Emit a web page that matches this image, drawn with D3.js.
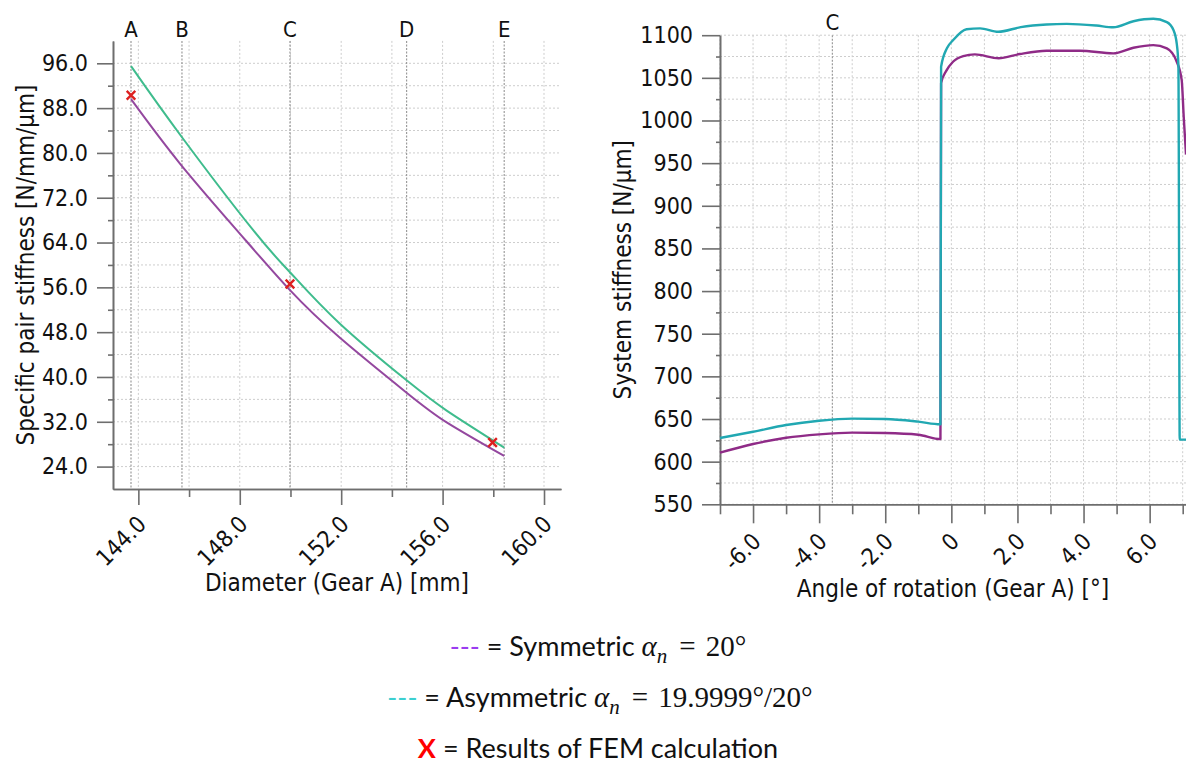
<!DOCTYPE html>
<html>
<head>
<meta charset="utf-8">
<script src="https://cdn.jsdelivr.net/npm/d3@7"></script>
<style>
  body { margin: 0; background: #fff; }
  svg text { font-family: "DejaVu Sans Condensed", "Liberation Sans", sans-serif; fill: #111; }
  .grid { stroke: #cdcdcd; stroke-width: 1; stroke-dasharray: 2,2; }
  .mark { stroke: #9c9c9c; stroke-width: 1.2; stroke-dasharray: 2,1.5; }
  .axis path, .axis line { stroke: #6e6e6e; stroke-width: 1.6; }
  .axis text { font-size: 23px; }
  .title { font-size: 24px; }
  .legend text { font-family: Lato, "Open Sans", sans-serif; font-size: 27px; }
  .legend .math { font-family: "Liberation Serif", serif; font-size: 29px; }
</style>
</head>
<body>
<div class="root"></div>
<script>
// left chart: specific pair stiffness over the diameter
var asymDiameter = [143.71, 145.72, 148.53, 149.98, 151.95, 154.58, 156.16, 158.43];
var asymStiffness = [95.5, 82.8, 66.2, 58.7, 49.5, 39.4, 34.0, 27.4];
var symDiameter = [143.71, 145.64, 148.0, 149.98, 151.95, 154.58, 156.16, 158.43];
var symStiffness = [89.6, 78.1, 65.6, 55.5, 47.0, 37.2, 31.9, 25.9];
var femDiameter = [143.71, 149.98, 157.97];
var femStiffness = [90.3, 56.6, 28.3];
var markLabels = ['A', 'B', 'C', 'D', 'E'];
var markDiameter = [143.71, 145.72, 149.98, 154.58, 158.43];
var diaTicks = [144, 148, 152, 156, 160];
var diaMinor = [146, 150, 154, 158];
var pairTicks = [24, 32, 40, 48, 56, 64, 72, 80, 88, 96];
var pairMinor = [28, 36, 44, 52, 60, 68, 76, 84, 92];

// right chart: system stiffness over the angle of rotation
var asymAngle = [-7.0, -6.0, -5.0, -4.0, -3.0, -2.0, -1.0, -0.33, -0.31, -0.13, 0.05, 0.46, 0.87, 1.42, 2.1, 2.88, 3.49, 4.39, 4.9, 5.51, 6.11, 6.52, 6.72, 6.82, 6.87, 6.91, 7.1];
var asymSystem = [627.7, 635.1, 643.0, 648.0, 650.4, 650.0, 646.9, 643.8, 1063, 1085, 1094, 1107, 1108, 1104, 1109.5, 1112.6, 1113.3, 1111.3, 1109.3, 1116.4, 1119.2, 1115.3, 1106, 1090, 1065, 625.8, 625.8];
var symAngle = [-7.0, -6.0, -5.0, -4.0, -3.0, -2.0, -1.0, -0.33, -0.31, -0.15, 0.05, 0.36, 0.71, 1.43, 2.07, 2.88, 3.89, 4.9, 5.51, 6.11, 6.52, 6.82, 6.97, 7.03, 7.1];
var symSystem = [610.5, 620.7, 628.0, 632.0, 634.0, 633.6, 631.6, 626.5, 1044, 1058.4, 1068.9, 1075.5, 1077.5, 1072.9, 1077.9, 1081.8, 1081.8, 1078.7, 1085.3, 1088.4, 1084.5, 1068.9, 1047.3, 1005, 960];
var angleMarkLabel = ['C'];
var angleMark = [-3.6];
var angleTicks = [-6, -4, -2, 0, 2, 4, 6];
var angleMinor = [-7, -5, -3, -1, 1, 3, 5, 7];
var sysTicks = [550, 600, 650, 700, 750, 800, 850, 900, 950, 1000, 1050, 1100];
var sysMinor = [575, 625, 675, 725, 775, 825, 875, 925, 975, 1025, 1075];

var symColorL = '#94489f', asymColorL = '#3fbc8d';
var symColorR = '#8f2b87', asymColorR = '#21a8b2';

var svg = d3.select('.root')
            .append('svg')
            .attr('width', 1186)
            .attr('height', 767);

function zip(xs, ys) {
  return xs.map(function(x, i) { return [x, ys[i]]; });
}

function drawChart(opt) {
  var x = opt.x, y = opt.y;
  var g = svg.append('g');
  var x0 = x.range()[0], x1 = x.range()[1];
  var y0 = y.range()[0], y1 = y.range()[1];

  // dotted grid
  g.append('g').selectAll('line')
    .data(opt.xGrid)
    .enter().append('line')
      .attr('class', 'grid')
      .attr('x1', function(d) { return x(d); })
      .attr('x2', function(d) { return x(d); })
      .attr('y1', y1).attr('y2', y0);
  g.append('g').selectAll('line')
    .data(opt.yGrid)
    .enter().append('line')
      .attr('class', 'grid')
      .attr('x1', x0).attr('x2', x1)
      .attr('y1', function(d) { return y(d); })
      .attr('y2', function(d) { return y(d); });

  // position markers (A..E)
  g.append('g').selectAll('line')
    .data(opt.marks)
    .enter().append('line')
      .attr('class', 'mark')
      .attr('x1', function(d) { return x(d); })
      .attr('x2', function(d) { return x(d); })
      .attr('y1', y1).attr('y2', y0);
  g.append('g').selectAll('text')
    .data(opt.marks)
    .enter().append('text')
      .attr('class', 'title')
      .style('font-size', '22px')
      .attr('text-anchor', 'middle')
      .attr('x', function(d) { return x(d); })
      .attr('y', opt.markY)
      .text(function(d, i) { return opt.markLabels[i]; });

  // axes
  g.append('g')
    .attr('class', 'axis')
    .attr('transform', 'translate(0,' + y0 + ')')
    .call(d3.axisBottom(x).tickValues(opt.xMinor).tickSize(opt.xMinorLen).tickSizeOuter(0).tickFormat(''));
  var xa = g.append('g')
    .attr('class', 'axis')
    .attr('transform', 'translate(0,' + y0 + ')')
    .call(d3.axisBottom(x).tickValues(opt.xTicks).tickSize(opt.xTickLen).tickSizeOuter(0).tickFormat(opt.xFormat));
  xa.selectAll('text')
    .attr('x', null).attr('y', null)
    .attr('dy', '0.35em')
    .attr('text-anchor', 'end')
    .attr('transform', 'translate(3,' + opt.xLabelDy + ') rotate(-45)');

  g.append('g')
    .attr('class', 'axis')
    .attr('transform', 'translate(' + x0 + ',0)')
    .call(d3.axisLeft(y).tickValues(opt.yMinor).tickSize(opt.yMinorLen).tickSizeOuter(0).tickFormat(''));
  g.append('g')
    .attr('class', 'axis')
    .attr('transform', 'translate(' + x0 + ',0)')
    .call(d3.axisLeft(y).tickValues(opt.yTicks).tickSize(opt.yTickLen).tickSizeOuter(0).tickPadding(9).tickFormat(opt.yFormat));

  g.selectAll('.axis .domain').attr('stroke', '#6e6e6e');

  // titles
  g.append('text')
    .attr('class', 'title')
    .attr('text-anchor', 'middle')
    .attr('x', (x0 + x1) / 2)
    .attr('y', opt.xTitleY)
    .text(opt.xTitle);
  g.append('text')
    .attr('class', 'title')
    .attr('text-anchor', 'middle')
    .attr('transform', 'translate(' + opt.yTitleX + ',' + ((y0 + y1) / 2) + ') rotate(-90)')
    .text(opt.yTitle);

  // curves
  var line = d3.line()
    .x(function(d) { return x(d[0]); })
    .y(function(d) { return y(d[1]); })
    .curve(opt.curve);
  opt.series.forEach(function(s) {
    g.append('path')
      .attr('fill', 'none')
      .attr('stroke', s.color)
      .attr('stroke-width', s.width)
      .attr('stroke-linejoin', 'round')
      .attr('d', line(s.points));
  });
  return g;
}

var xL = d3.scaleLinear().domain([143, 160.67]).range([113, 561]);
var yL = d3.scaleLinear().domain([20, 100]).range([489, 40.9]);

var leftChart = drawChart({
  x: xL, y: yL, curve: d3.curveNatural,
  xGrid: diaTicks.concat(diaMinor),
  yGrid: pairTicks.concat(pairMinor),
  marks: markDiameter, markLabels: markLabels, markY: 37,
  xTicks: diaTicks, xMinor: diaMinor, xTickLen: 16, xMinorLen: 8, xLabelDy: 31,
  xFormat: d3.format('.1f'),
  yTicks: pairTicks, yMinor: pairMinor, yTickLen: 16, yMinorLen: 5,
  yFormat: d3.format('.1f'),
  xTitle: 'Diameter (Gear A) [mm]', xTitleY: 591,
  yTitle: 'Specific pair stiffness [N/mm/\u00b5m]', yTitleX: 34,
  series: [
    { points: zip(symDiameter, symStiffness), color: symColorL, width: 2 },
    { points: zip(asymDiameter, asymStiffness), color: asymColorL, width: 2 }
  ]
});

// FEM results
leftChart.append('g').selectAll('path')
  .data(zip(femDiameter, femStiffness))
  .enter().append('path')
    .attr('transform', function(d) { return 'translate(' + xL(d[0]) + ',' + yL(d[1]) + ')'; })
    .attr('d', d3.symbol().type(d3.symbolX).size(50))
    .attr('fill', 'none')
    .attr('stroke', '#dd2020')
    .attr('stroke-width', 2.4);

var xR = d3.scaleLinear().domain([-7, 7.1]).range([720, 1186]);
var yR = d3.scaleLinear().domain([550, 1100]).range([504.3, 35.2]);

drawChart({
  x: xR, y: yR, curve: d3.curveMonotoneX,
  xGrid: angleTicks.concat(angleMinor),
  yGrid: sysTicks.concat(sysMinor),
  marks: angleMark, markLabels: angleMarkLabel, markY: 30,
  xTicks: angleTicks, xMinor: angleMinor, xTickLen: 19, xMinorLen: 10, xLabelDy: 33,
  xFormat: function(d) { return d === 0 ? '0' : d.toFixed(1); },
  yTicks: sysTicks, yMinor: sysMinor, yTickLen: 18, yMinorLen: 4,
  yFormat: d3.format('d'),
  xTitle: 'Angle of rotation (Gear A) [\u00b0]', xTitleY: 597,
  yTitle: 'System stiffness [N/\u00b5m]', yTitleX: 631,
  series: [
    { points: zip(symAngle, symSystem), color: symColorR, width: 2.4 },
    { points: zip(asymAngle, asymSystem), color: asymColorR, width: 2.4 }
  ]
});

// legend
var legend = svg.append('g').attr('class', 'legend');

var l1 = legend.append('text').attr('x', 598).attr('y', 656).attr('text-anchor', 'middle');
l1.append('tspan').style('fill', '#9a3cf0').text('---');
l1.append('tspan').text(' = Symmetric ');
l1.append('tspan').attr('class', 'math').style('font-style', 'italic').text('\u03b1');
l1.append('tspan').attr('class', 'math').style('font-style', 'italic').style('font-size', '21px').attr('dy', 7).text('n');
l1.append('tspan').attr('class', 'math').attr('dy', -7).attr('dx', 12).text('=');
l1.append('tspan').attr('class', 'math').attr('dx', 10).text('20\u00b0');

var l2 = legend.append('text').attr('x', 600).attr('y', 707).attr('text-anchor', 'middle');
l2.append('tspan').style('fill', '#3ccfd0').text('---');
l2.append('tspan').text(' = Asymmetric ');
l2.append('tspan').attr('class', 'math').style('font-style', 'italic').text('\u03b1');
l2.append('tspan').attr('class', 'math').style('font-style', 'italic').style('font-size', '21px').attr('dy', 7).text('n');
l2.append('tspan').attr('class', 'math').attr('dy', -7).attr('dx', 12).text('=');
l2.append('tspan').attr('class', 'math').attr('dx', 10).text('19.9999\u00b0/20\u00b0');

var l3 = legend.append('text').attr('x', 598).attr('y', 758).attr('text-anchor', 'middle');
l3.append('tspan').style('fill', '#ff0000').style('font-weight', 'bold').text('X');
l3.append('tspan').text(' = Results of FEM calculation');
</script>
</body>
</html>
